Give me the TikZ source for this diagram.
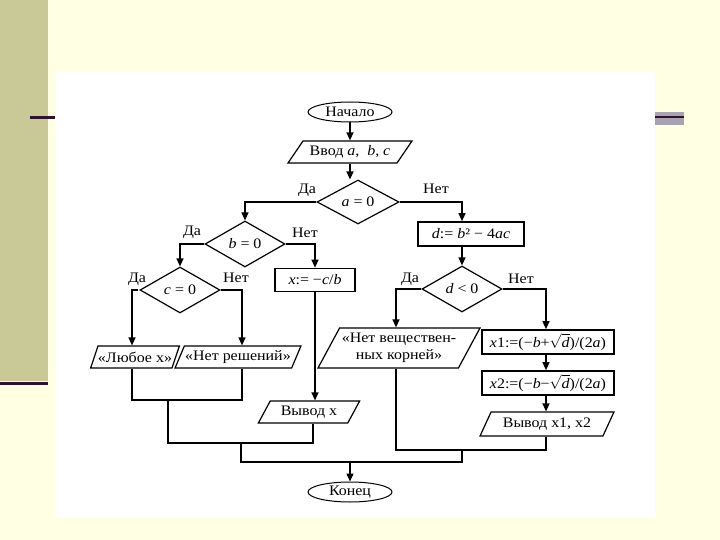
\documentclass[tikz,border=0pt]{standalone}
\usepackage{fontspec}
\setmainfont{Liberation Serif}[FakeStretch=1.1]
\usetikzlibrary{shapes.geometric,arrows.meta,calc}
\definecolor{bgy}{HTML}{FFFFE3}
\definecolor{olivestrip}{HTML}{C9C997}
\definecolor{darkline}{HTML}{2E1230}
\definecolor{graybar}{HTML}{A9A2B0}
\begin{document}
\begin{tikzpicture}[x=1pt,y=-1pt,
  every node/.style={font=\fontsize{14.5}{17}\selectfont, inner sep=1pt},
  term/.style={ellipse, draw, line width=1pt, minimum width=84pt, minimum height=20pt, inner sep=0pt},
  io/.style={trapezium, trapezium left angle=55, trapezium right angle=125, trapezium stretches=true, draw, line width=1.2pt, minimum height=22pt, inner sep=0pt},
  proc/.style={rectangle, draw, line width=1.7pt, minimum height=23pt, inner sep=0pt},
  dec/.style={diamond, draw, line width=1.2pt, inner sep=0pt},
  lab/.style={inner sep=0pt},
  arr/.style={line width=1.3pt, -{Triangle[length=8pt,width=7pt]}},
  ln/.style={line width=1.3pt}]
\useasboundingbox (0,0) rectangle (720,540);
% slide background
\fill[bgy] (0,0) rectangle (720,540);
\fill[olivestrip] (0,0) rectangle (48,381);
\fill[darkline] (0,382) rectangle (48,385);
\fill[darkline] (30,116) rectangle (55,119);
\fill[graybar] (655,112) rectangle (684,125);
\fill[darkline] (655,116.5) rectangle (684,118.5);
\fill[white] (55,72) rectangle (655,518);

% nodes
\node[term] (start) at (350,112) {Начало};
\node[io, trapezium left angle=45, trapezium right angle=135, minimum width=124pt] (in) at (350,152) {Ввод \textit{a}, \ \textit{b}, \textit{c}};
\node[dec, minimum width=82pt, minimum height=44pt] (da) at (358,202) {\textit{a} = 0};
\node[dec, minimum width=80pt, minimum height=46pt] (db) at (245,244) {\textit{b} = 0};
\node[dec, minimum width=80pt, minimum height=46pt] (dc) at (180,290) {\textit{c} = 0};
\node[proc, minimum width=80pt] (xcb) at (315,280) {\textit{x}:= −\textit{c}/\textit{b}};
\node[proc, minimum width=106pt, minimum height=24pt] (calc) at (471,234) {\textit{d}:= \textit{b}² − 4\textit{ac}};
\node[dec, minimum width=80pt, minimum height=46pt] (dd) at (462,289) {\textit{d} < 0};
\node[io, minimum width=88pt] (o1) at (135,357) {«Любое x»};
\node[io, minimum width=126pt] (o2) at (238,357) {«Нет решений»};
\node[io, minimum width=102pt] (outx) at (309,412) {Вывод x};
\node[io, minimum width=162pt, minimum height=40pt, align=center] (noreal) at (399,348) {«Нет веществен-\\ных корней»};
\node[proc, minimum width=132pt, minimum height=24pt] (x1) at (548,342) {\textit{x}1:=(−\textit{b}+$\sqrt{\textit{d}}$)/(2\textit{a})};
\node[proc, minimum width=132pt, minimum height=24pt] (x2) at (548,383) {\textit{x}2:=(−\textit{b}−$\sqrt{\textit{d}}$)/(2\textit{a})};
\node[io, minimum width=134pt, minimum height=24pt] (out2) at (547,424) {Вывод x1, x2};
\node[term] (end) at (350,492) {Конец};

% branch labels
\node[lab] (da-yes) at (307,190) {Да};
\node[lab] (da-no) at (436,189) {Нет};
\node[lab] (db-yes) at (192,232) {Да};
\node[lab] (db-no) at (305,233) {Нет};
\node[lab] (dc-yes) at (137,279) {Да};
\node[lab] (dc-no) at (236,278) {Нет};
\node[lab] (dd-yes) at (410,279) {Да};
\node[lab] (dd-no) at (521,279) {Нет};

% connectors
\draw[arr] (start.south) -- (start.south |- in.north);
\draw[arr] (in.south) -- (in.south |- da.north);
\draw[arr] (da.west) -| (db.north);
\draw[arr] (da.east) -| (dd.north |- calc.north);
\draw[arr] (dd.north |- calc.south) -- (dd.north);
\draw[arr] (db.west) -| (dc.north);
\draw[arr] (db.east) -| (xcb.north);
\draw[arr] ([xshift=-1pt]dc.west) -| ([xshift=-3pt]o1.north);
\draw[arr] (dc.east) -| ([xshift=4pt]o2.north);
\draw[arr] (xcb.south) -- (xcb.south |- outx.north);
\draw[arr] (dd.west) -| ([xshift=-3pt]noreal.north);
\draw[arr] (dd.east) -| ([xshift=-2pt]x1.north);
\draw[arr] ([xshift=-2pt]x1.south) -- ([xshift=-2pt]x1.south |- x2.north);
\draw[arr] ([xshift=-2pt]x2.south) -- ([xshift=-2pt]x2.south |- out2.north);

% joins
\coordinate (j1) at (168,400);
\coordinate (j2) at (241,443);
\coordinate (j3) at (462,450);
\coordinate (j4) at (350,462);
\draw[ln] ([xshift=-3pt]o1.south) |- (j1) -| ([xshift=4pt]o2.south);
\draw[ln] (j1) |- (j2) -| ([xshift=4pt]outx.south);
\draw[ln] ([xshift=-3pt]noreal.south) |- (j3) -| ([xshift=-1pt]out2.south);
\draw[ln] (j2) |- (j4) -| (j3);
\draw[arr] (j4) -- (end.north);
\end{tikzpicture}
\end{document}
